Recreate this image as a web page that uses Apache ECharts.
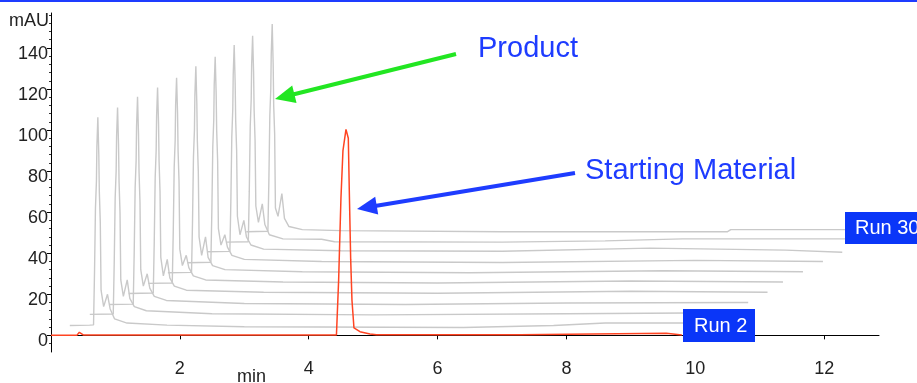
<!DOCTYPE html>
<html>
<head>
<meta charset="utf-8">
<script src="https://cdn.jsdelivr.net/npm/echarts@6/dist/echarts.min.js"></script>
<style>
  html, body { margin: 0; padding: 0; background: #fff; }
  #chart { width: 917px; height: 383px; }
</style>
</head>
<body>
<div id="chart"></div>
<script>
// tick labels
const xTicks = [2, 4, 6, 8, 10, 12];
const yTicks = [0, 20, 40, 60, 80, 100, 120, 140];
const yMinorTicks = [-4, 4, 8, 12, 16, 24, 28, 32, 36, 44, 48, 52, 56, 64, 68, 72, 76, 84, 88, 92, 96,
  104, 108, 112, 116, 124, 128, 132, 136, 144, 148, 152, 156];

// Run 2 (red) : [min, mAU]
const run2 = [[0, 0], [0.40, 0], [0.44, 1.5], [0.47, 1.5], [0.5, 0.2], [4.43, 0.2], [4.464, 27], [4.50, 67],
  [4.531, 90], [4.578, 100.3], [4.609, 100], [4.614, 96], [4.629, 71], [4.651, 37], [4.671, 17], [4.702, 3.6],
  [4.795, 1.8], [4.95, 0.7], [5.05, 0.3], [7.28, 0.3], [7.29, 1.0], [9.55, 1.0], [9.56, 0.2], [9.79, 0.2]];

// gray runs, stacked with offsets, bottom to top (top one is Run 30)
const tr1 = [[0.292, 4.8], [0.60, 5.0], [0.660, 5.1], [0.675, 30], [0.690, 62], [0.705, 75], [0.712, 92], [0.727, 106.2],
  [0.742, 88], [0.750, 70], [0.765, 55], [0.777, 22], [0.817, 14], [0.877, 20], [0.917, 13], [0.987, 8], [1.18, 6],
  [1.8, 5], [3.0, 4.2], [6.4, 3.8], [7.8, 4.8], [8.6, 6], [10.2, 6]];
const tr2 = [[0.602, 10.2], [0.966, 10.4], [0.981, 35], [0.996, 67], [1.011, 80], [1.018, 97], [1.033, 111], [1.048, 93],
  [1.056, 75], [1.071, 60], [1.083, 27], [1.123, 19], [1.183, 27], [1.223, 18], [1.293, 14], [1.48, 12], [2.5, 10.5],
  [5, 10], [8, 10.5], [10.5, 11]];
const tr3 = [[0.901, 15], [1.276, 15.2], [1.291, 40], [1.306, 72], [1.321, 85], [1.328, 102], [1.343, 116.2], [1.358, 98],
  [1.366, 80], [1.381, 65], [1.393, 32], [1.433, 24], [1.493, 30], [1.533, 23], [1.603, 19], [1.79, 17], [3, 15.5],
  [5.5, 15], [8, 15.8], [10.82, 16]];
const tr4 = [[1.205, 20.4], [1.587, 20.6], [1.602, 45], [1.617, 77], [1.632, 90], [1.639, 107], [1.654, 120.7], [1.669, 103],
  [1.677, 85], [1.692, 70], [1.704, 38], [1.744, 29], [1.804, 37], [1.844, 28], [1.914, 24], [2.1, 22], [3.3, 21],
  [6, 20.5], [9, 21.5], [11.12, 21]];
const tr5 = [[1.509, 25.3], [1.882, 25.5], [1.897, 50], [1.912, 82], [1.927, 95], [1.934, 112], [1.949, 125.5], [1.964, 108],
  [1.972, 90], [1.987, 75], [1.999, 42], [2.039, 34], [2.099, 39], [2.139, 33], [2.209, 29], [2.4, 27], [3.6, 26],
  [6, 25.5], [9, 26.5], [11.36, 26]];
const tr6 = [[1.814, 30.5], [2.181, 30.7], [2.196, 55], [2.211, 87], [2.226, 100], [2.233, 117], [2.248, 131.1], [2.263, 113],
  [2.271, 95], [2.286, 80], [2.298, 48], [2.338, 39], [2.398, 48], [2.438, 38], [2.508, 34], [2.7, 32], [3.9, 31],
  [6.5, 30.5], [9.5, 31.5], [11.67, 31]];
const tr7 = [[2.118, 35.4], [2.481, 35.6], [2.496, 60], [2.511, 92], [2.526, 105], [2.533, 122], [2.548, 135.7], [2.563, 118],
  [2.571, 100], [2.586, 85], [2.598, 52], [2.638, 44], [2.698, 49], [2.738, 43], [2.808, 39], [3.0, 37], [4.2, 36],
  [7, 35.5], [10, 36.5], [11.98, 36]];
const tr8 = [[2.422, 40.7], [2.776, 40.9], [2.791, 65], [2.806, 97], [2.821, 110], [2.828, 127], [2.843, 141.4], [2.858, 123],
  [2.866, 105], [2.881, 90], [2.893, 58], [2.933, 49], [2.993, 56], [3.033, 48], [3.103, 44], [3.3, 42], [4.5, 41.2],
  [7, 41], [9.3, 42.5], [11.4, 41.5], [12.28, 40.5]];
const tr9 = [[2.727, 45.4], [3.062, 45.6], [3.077, 70], [3.092, 102], [3.107, 115], [3.114, 132], [3.129, 145.9], [3.144, 128],
  [3.152, 110], [3.167, 95], [3.179, 63], [3.219, 55], [3.279, 64], [3.319, 54], [3.389, 49], [3.6, 47], [4.2, 46.8],
  [4.4, 45.6], [7, 45.4], [8.6, 46], [9.8, 47], [12.59, 47]];
const tr10 = [[3.031, 50.5], [3.366, 50.7], [3.381, 75], [3.396, 107], [3.411, 120], [3.418, 137], [3.433, 151.6], [3.448, 132],
  [3.456, 112], [3.471, 98], [3.483, 62], [3.523, 58], [3.583, 69], [3.623, 57], [3.693, 53], [3.9, 51.5], [4.5, 51],
  [7, 50.5], [10.5, 50.5], [10.55, 51.5], [12.85, 51.5]];
const grayRuns = [tr1, tr2, tr3, tr4, tr5, tr6, tr7, tr8, tr9, tr10];

const blue = '#1e3cff';
const font = 'Liberation Sans, Arial, sans-serif';

const series = grayRuns.map(function (d) {
  return {
    type: 'line',
    data: d,
    showSymbol: false,
    lineStyle: { color: '#c9c9c9', width: 1.4 },
    z: 2,
  };
});
series.push({
  type: 'line',
  data: run2,
  showSymbol: false,
  lineStyle: { color: '#ff4422', width: 1.5 },
  z: 3,
});

const chart = echarts.init(document.getElementById('chart'));
chart.setOption({
  animation: false,
  grid: { left: 51, right: 38, top: 13, bottom: 31 },
  xAxis: {
    type: 'value',
    min: 0,
    max: 12.85,
    axisLine: { lineStyle: { color: '#000', width: 1 } },
    axisTick: { customValues: xTicks, length: 4, lineStyle: { color: '#000' } },
    axisLabel: { customValues: xTicks, margin: 8, fontSize: 18, color: '#222', fontFamily: font },
    splitLine: { show: false },
  },
  yAxis: [
    {
      type: 'value',
      min: -8.1,
      max: 157,
      axisLine: { show: true, lineStyle: { color: '#000', width: 1 } },
      axisTick: { customValues: yTicks, length: 4, lineStyle: { color: '#000' } },
      axisLabel: {
        customValues: yTicks, margin: 3, fontSize: 18, color: '#222', fontFamily: font,
        verticalAlign: 'top', lineHeight: 12,
      },
      splitLine: { show: false },
    },
    {
      type: 'value',
      min: -8.1,
      max: 157,
      position: 'left',
      axisLine: { show: false },
      axisTick: { customValues: yMinorTicks, length: 2, lineStyle: { color: '#333' } },
      axisLabel: { show: false },
      splitLine: { show: false },
    },
  ],
  series: series,
  graphic: [
    { type: 'rect', shape: { x: 0, y: 0, width: 917, height: 2 }, style: { fill: blue } },
    { type: 'text', x: 49, y: 21, style: { text: 'mAU', fill: '#222', font: '18px ' + font, align: 'right', verticalAlign: 'middle' } },
    { type: 'text', x: 237, y: 368, style: { text: 'min', fill: '#222', font: '18px ' + font, align: 'left', verticalAlign: 'top' } },
    // Product arrow
    { type: 'line', shape: { x1: 456, y1: 54, x2: 293, y2: 94.5 }, style: { stroke: '#22e622', lineWidth: 4 } },
    { type: 'polygon', shape: { points: [[275, 99], [296.6, 102.9], [292.2, 85.5]] }, style: { fill: '#22e622' } },
    { type: 'text', x: 478, y: 49, style: { text: 'Product', fill: blue, font: '29px ' + font, verticalAlign: 'middle' } },
    // Starting Material arrow
    { type: 'line', shape: { x1: 575, y1: 173, x2: 375, y2: 206 }, style: { stroke: blue, lineWidth: 4 } },
    { type: 'polygon', shape: { points: [[357, 209], [378.2, 214.6], [375.2, 196.8]] }, style: { fill: blue } },
    { type: 'text', x: 585, y: 171, style: { text: 'Starting Material', fill: blue, font: '29px ' + font, verticalAlign: 'middle' } },
    // run labels
    { type: 'rect', shape: { x: 845, y: 212, width: 72, height: 32 }, style: { fill: '#0a36f8' }, z: 10 },
    { type: 'text', x: 855, y: 228, style: { text: 'Run 30', fill: '#fff', font: '20px ' + font, verticalAlign: 'middle' }, z: 11 },
    { type: 'rect', shape: { x: 683, y: 309, width: 72, height: 33 }, style: { fill: '#0a36f8' }, z: 10 },
    { type: 'text', x: 694, y: 326, style: { text: 'Run 2', fill: '#fff', font: '20px ' + font, verticalAlign: 'middle' }, z: 11 },
  ],
});
</script>
</body>
</html>
